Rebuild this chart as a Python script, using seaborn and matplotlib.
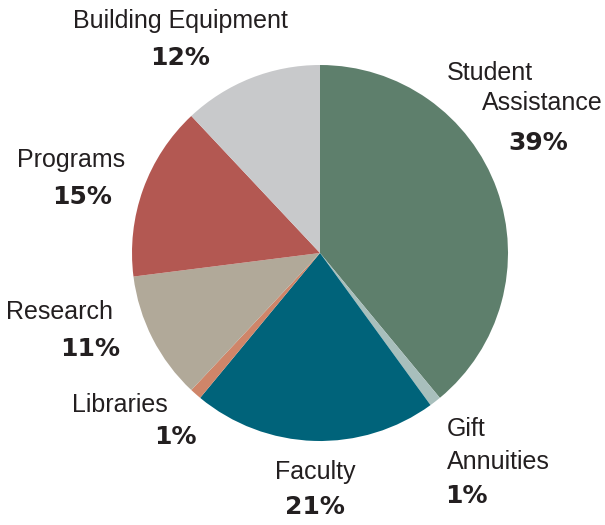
import matplotlib
matplotlib.use('Agg')
import matplotlib.pyplot as plt
import seaborn as sns

sns.set_theme(style='white')
plt.rcParams['font.family'] = ['Liberation Sans', 'DejaVu Sans']

categories = ['Student\nAssistance', 'Gift\nAnnuities', 'Faculty', 'Libraries',
              'Research', 'Programs', 'Building Equipment']
shares = [39, 1, 21, 1, 11, 15, 12]
colors = ['#5e7f6c', '#a8bfbc', '#00637a', '#cf8569', '#b1a999', '#b35852', '#c8c9cb']

# label placement in pixels: (x, y, ha) for each name line, then centre of the percent
name_pos = [
    [(447, 73, 'left'), (603, 103, 'right')],
    [(447, 429, 'left'), (447, 462, 'left')],
    [(315, 472, 'center')],
    [(120, 405, 'center')],
    [(60, 312, 'center')],
    [(71, 160, 'center')],
    [(180, 21, 'center')],
]
pct_pos = [(538, 143), (466, 496), (315, 507), (175, 437), (90, 349), (82, 197), (180, 58)]

W, H = 605, 525
CX, CY, R = 320, 253, 188

fig = plt.figure(figsize=(W / 100, H / 100), dpi=100)
ax = fig.add_axes([(CX - R) / W, (H - CY - R) / H, 2 * R / W, 2 * R / H])
ax.pie(shares, colors=colors, startangle=90, counterclock=False, radius=1,
       wedgeprops=dict(linewidth=0))
ax.set_xlim(-1, 1)
ax.set_ylim(-1, 1)
ax.axis('off')

def to_data(px, py):
    return (px - CX) / R, (CY - py) / R

for name, val, lines_xy, p_xy in zip(categories, shares, name_pos, pct_pos):
    for line, (px, py, ha) in zip(name.split('\n'), lines_xy):
        x, y = to_data(px, py)
        ax.text(x, y, line, ha=ha, va='center', fontsize=18, color='#231f20',
                clip_on=False)
    x, y = to_data(*p_xy)
    ax.text(x, y, f'{val}%', ha='center', va='center', fontsize=18,
            fontweight='heavy', family=['DejaVu Sans'], color='#231f20', clip_on=False)

fig.savefig('out.png', dpi=100)
